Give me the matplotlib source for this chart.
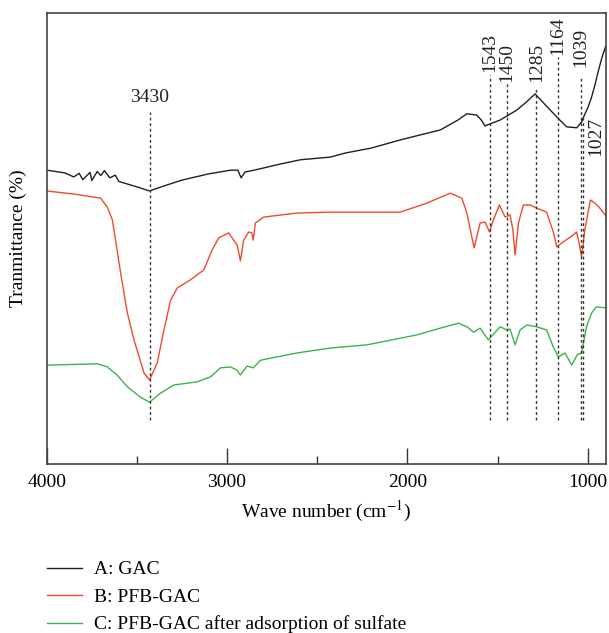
import matplotlib
matplotlib.use('Agg')
import matplotlib.pyplot as plt

plt.rcParams['font.family'] = ['Liberation Serif', 'DejaVu Serif']
plt.rcParams['mathtext.fontset'] = 'stix'

# wavenumber (cm-1) and transmittance (arbitrary, offset curves)
wn_a = [4000, 3900, 3850, 3820, 3800, 3760, 3750, 3720, 3700, 3680, 3650, 3620, 3600,
        3550, 3500, 3430, 3350, 3250, 3100, 2980, 2940, 2922, 2900, 2850, 2700, 2594,
        2427, 2344, 2200, 2040, 1950, 1818, 1720, 1670, 1615, 1590, 1570, 1545, 1486,
        1394, 1340, 1292, 1250, 1172, 1117, 1061, 1034, 1025, 1000, 980, 960, 940, 920, 900]
tr_a = [65.1, 64.5, 63.6, 64.4, 63.0, 64.6, 62.8, 64.8, 63.9, 65.0, 63.4, 64.0, 62.6,
        62.0, 61.4, 60.5, 61.6, 62.9, 64.3, 65.1, 65.1, 63.4, 64.7, 65.1, 66.5, 67.4,
        68.0, 68.9, 70.0, 71.8, 72.7, 74.0, 76.2, 77.6, 77.3, 76.2, 74.9, 75.3, 76.2,
        78.4, 80.2, 82.0, 80.2, 76.9, 74.7, 74.5, 75.8, 76.7, 78.9, 81.1, 84.0, 87.3, 90.2, 92.6]

wn_b = [4000, 3850, 3750, 3701, 3664, 3636, 3590, 3553, 3516, 3461, 3430, 3387, 3350,
        3313, 3276, 3203, 3129, 3083, 3046, 2991, 2963, 2944, 2926, 2908, 2880, 2862,
        2855, 2843, 2797, 2612, 2427, 2040, 1892, 1763, 1698, 1670, 1645, 1630, 1597,
        1569, 1545, 1523, 1490, 1458, 1431, 1415, 1403, 1384, 1357, 1320, 1283, 1228,
        1191, 1172, 1136, 1081, 1062, 1048, 1034, 1016, 985, 960, 933, 900]
tr_b = [60.5, 59.8, 59.2, 58.9, 56.9, 54.1, 42.3, 33.5, 27.5, 20.2, 18.6, 22.4, 29.7,
        36.3, 39.0, 40.8, 43.0, 47.4, 50.1, 51.2, 49.6, 48.5, 45.0, 49.6, 51.4, 51.2,
        49.6, 53.4, 54.7, 55.6, 55.8, 55.8, 57.8, 60.0, 58.9, 55.6, 50.7, 47.9, 53.4,
        53.6, 51.4, 54.1, 57.4, 54.7, 55.2, 51.9, 46.3, 53.4, 57.4, 57.4, 56.7, 55.8,
        51.4, 48.1, 49.2, 50.7, 51.4, 49.0, 45.9, 51.9, 58.5, 57.8, 56.7, 55.0]

wn_c = [4000, 3719, 3664, 3609, 3553, 3480, 3430, 3369, 3295, 3166, 3092, 3037, 2981,
        2945, 2926, 2889, 2855, 2814, 2612, 2427, 2224, 1947, 1818, 1717, 1670, 1633,
        1597, 1551, 1486, 1449, 1431, 1403, 1375, 1338, 1283, 1228, 1191, 1163, 1126,
        1089, 1058, 1034, 1007, 978, 952, 900]
tr_c = [21.9, 22.2, 21.5, 19.7, 17.1, 14.8, 13.7, 15.7, 17.5, 18.2, 19.3, 21.3, 21.5,
        20.8, 19.7, 21.7, 21.3, 23.0, 24.6, 25.7, 26.4, 28.6, 30.1, 31.2, 30.4, 29.2,
        30.1, 27.5, 30.4, 29.7, 29.9, 26.4, 29.7, 30.8, 30.4, 29.7, 25.9, 23.7, 24.6,
        21.9, 24.2, 24.6, 30.4, 33.5, 34.8, 34.6]

labels = ['A: GAC', 'B: PFB-GAC', 'C: PFB-GAC after adsorption of sulfate']
colors = ['#231f20', '#ef4a2c', '#3ab54a']

# marked peaks
peaks = [3430, 1543, 1450, 1285, 1164, 1039, 1027]
peak_top = [78.0, 86.2, 84.4, 83.5, 90.2, 85.8, 76.7]
label_pos = [(3430, 79.3), (1543, 86.9), (1450, 84.6), (1285, 84.6),
             (1164, 90.6), (1039, 88.0), (958, 77.0)]

fig = plt.figure(figsize=(6.09, 6.33), dpi=100)
ax = fig.add_axes([0.0767, 0.267, 0.918, 0.713])

lines = []
for wn, tr, lab, c in zip([wn_a, wn_b, wn_c], [tr_a, tr_b, tr_c], labels, colors):
    l, = ax.plot(wn, tr, color=c, lw=1.0, label=lab)
    lines.append(l)

for p, top in zip(peaks, peak_top):
    ax.plot([p, p], [9.8, top], color='#333333', lw=1.0, ls=(0, (2, 2)))

for p, (xp, yp) in zip(peaks, label_pos):
    if p == 3430:
        ax.text(xp, yp, str(p), ha='center', va='bottom', fontsize=14, color='#231f20')
    elif p == 1027:
        ax.text(xp, yp, str(p), ha='center', va='top', rotation=90, fontsize=14,
                color='#231f20', clip_on=False)
    else:
        ax.text(xp, yp, str(p), ha='center', va='bottom', rotation=90, fontsize=14,
                color='#231f20', clip_on=False)

ax.set_xlim(4000, 900)
ax.set_ylim(0, 100)
ax.set_xticks([4000, 3000, 2000, 1000])
ax.set_xticks([3500, 2500, 1500], minor=True)
ax.set_yticks([])
ax.tick_params(axis='x', which='major', direction='in', length=11.5, width=1.0,
               labelsize=14, pad=7, color='#333333')
ax.tick_params(axis='x', which='minor', direction='in', length=5.8, width=1.0,
               color='#333333')
for s in ax.spines.values():
    s.set_color('#444444')
    s.set_linewidth(1.2)

ax.set_xlabel(r'Wave number (cm$^{-1}$)', fontsize=14, labelpad=6)
ax.set_ylabel('Tranmittance (%)', fontsize=14, labelpad=14)

fig.legend(handles=lines, loc='upper left', bbox_to_anchor=(0.0767, 0.114),
           frameon=False, fontsize=14, handlelength=1.8, handletextpad=0.65,
           borderpad=0, borderaxespad=0, labelspacing=0.5)

fig.savefig('out.png', dpi=100)
